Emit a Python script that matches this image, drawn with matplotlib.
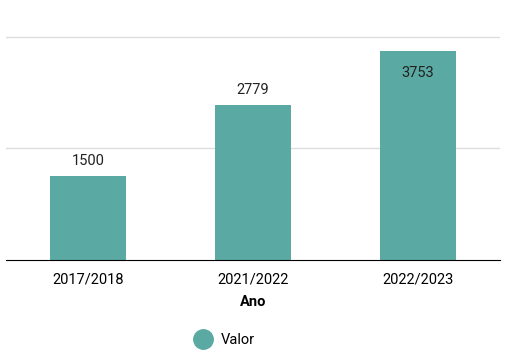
import matplotlib
matplotlib.use('Agg')
import matplotlib.pyplot as plt
from matplotlib.lines import Line2D

plt.rcParams['font.family'] = ['Roboto', 'DejaVu Sans']

# Data
anos = ['2017/2018', '2021/2022', '2022/2023']
valores = [1500, 2779, 3753]
cor = '#5aaaa3'

fig = plt.figure(figsize=(5.16, 3.58), dpi=100)
ax = fig.add_axes([6 / 516, 98 / 358, 494 / 516, 227 / 358])

x = range(len(anos))
bars = ax.bar(x, valores, width=0.46, color=cor, zorder=2)

ax.set_xlim(-0.5, 2.5)
ax.set_ylim(0, 4070)
ax.set_yticks([2000, 4000])
ax.yaxis.grid(True, color='#dddddd', linewidth=1, zorder=0)
ax.tick_params(axis='y', length=0, labelleft=False)
ax.tick_params(axis='x', length=0, labelsize=10.5, pad=9)
ax.set_xticks(list(x))
ax.set_xticklabels(anos)
for s in ['top', 'left', 'right']:
    ax.spines[s].set_visible(False)
ax.spines['bottom'].set_color('black')
ax.spines['bottom'].set_zorder(3)

# Value labels: above the bar, inside if no room
for b, v in zip(bars, valores):
    cx = b.get_x() + b.get_width() / 2
    if v > 3500:
        ax.annotate(str(v), (cx, v), xytext=(0, -16), textcoords='offset points',
                    ha='center', va='center', fontsize=10.5, color='#222222', zorder=4)
    else:
        ax.annotate(str(v), (cx, v), xytext=(0, 11), textcoords='offset points',
                    ha='center', va='center', fontsize=10.5, color='#222222', zorder=4)

ax.set_xlabel('Ano', fontsize=10.5, fontweight='bold', labelpad=6)

handle = Line2D([], [], marker='o', linestyle='none', markersize=14,
                markerfacecolor=cor, markeredgecolor=cor)
fig.legend([handle], ['Valor'], loc='center', bbox_to_anchor=(222 / 516, 1 - 340 / 358),
           frameon=False, fontsize=10.5, handletextpad=0.2)

fig.savefig('out.png', dpi=100)
